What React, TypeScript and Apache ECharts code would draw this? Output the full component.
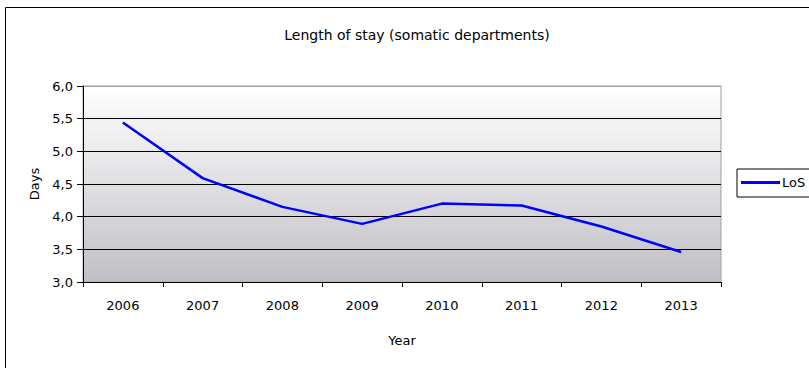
import React, { useEffect, useRef } from "react";
import * as echarts from "echarts";

const years = ["2006", "2007", "2008", "2009", "2010", "2011", "2012", "2013"];
const losValues = [5.44, 4.59, 4.15, 3.89, 4.2, 4.17, 3.85, 3.46];
const seriesName = "LoS";
const titleText = "Length of stay (somatic departments)";
const yAxisName = "Days";
const xAxisName = "Year";

const FONT = "'DejaVu Sans', Arial, sans-serif";

export default function App() {
  const ref = useRef<HTMLDivElement>(null);
  useEffect(() => {
    document.body.style.margin = "0";
    if (!ref.current) return;
    const chart = echarts.init(ref.current, undefined, { renderer: "svg" });
    chart.setOption({
      animation: false,
      backgroundColor: "#ffffff",
      textStyle: { fontFamily: FONT, color: "#000" },
      title: {
        text: titleText,
        left: 412,
        textAlign: "center",
        top: 23,
        textStyle: { fontFamily: FONT, fontSize: 14, fontWeight: "normal", color: "#000" },
      },
      graphic: [
        {
          type: "rect",
          shape: { x: 5.5, y: 7.5, width: 900, height: 500 },
          style: { fill: "none", stroke: "#000", lineWidth: 1 },
          z: 100,
        },
      ],
      legend: {
        left: 737,
        top: 169,
        orient: "vertical",
        borderColor: "#000",
        borderWidth: 1,
        padding: [7, 12, 8, 4],
        itemWidth: 39,
        itemHeight: 3,
        itemGap: 0,
        icon: "rect",
        textStyle: { fontFamily: FONT, fontSize: 13, color: "#000", padding: [0, 0, 0, -3] },
        data: [seriesName],
      },
      grid: {
        left: 83,
        right: 88,
        top: 86,
        bottom: 86,
        show: true,
        borderColor: "#a0a0a0",
        borderWidth: 1,
        backgroundColor: new echarts.graphic.LinearGradient(0, 0, 0, 1, [
          { offset: 0, color: "#ffffff" },
          { offset: 1, color: "#c1bfc5" },
        ]),
      },
      xAxis: {
        type: "category",
        data: years,
        boundaryGap: true,
        name: xAxisName,
        nameLocation: "middle",
        nameGap: 52,
        nameTextStyle: { fontFamily: FONT, fontSize: 13, color: "#000" },
        axisLine: { show: true, lineStyle: { color: "#000", width: 1 } },
        axisTick: { show: true, length: 5, lineStyle: { color: "#000" } },
        axisLabel: { fontFamily: FONT, fontSize: 13, color: "#000", margin: 17 },
        splitLine: { show: false },
      },
      yAxis: {
        type: "value",
        min: 3,
        max: 6,
        interval: 0.5,
        name: yAxisName,
        nameLocation: "middle",
        nameGap: 40,
        nameTextStyle: { fontFamily: FONT, fontSize: 13, color: "#000" },
        axisLine: { show: true, lineStyle: { color: "#000", width: 1 } },
        axisTick: { show: true, length: 6, lineStyle: { color: "#000" } },
        axisLabel: {
          fontFamily: FONT,
          fontSize: 13,
          color: "#000",
          margin: 10,
          formatter: (v: number) => v.toFixed(1).replace(".", ","),
        },
        splitLine: {
          show: true,
          lineStyle: {
            color: ["#000", "#000", "#000", "#000", "#000", "#000", "#a0a0a0"],
            width: 1,
          },
        },
      },
      series: [
        {
          name: seriesName,
          type: "line",
          data: losValues,
          symbol: "none",
          lineStyle: { color: "#0000ff", width: 2.5 },
          itemStyle: { color: "#0000ff" },
        },
      ],
    });
    return () => chart.dispose();
  }, []);
  return <div ref={ref} style={{ width: 809, height: 368 }} />;
}
